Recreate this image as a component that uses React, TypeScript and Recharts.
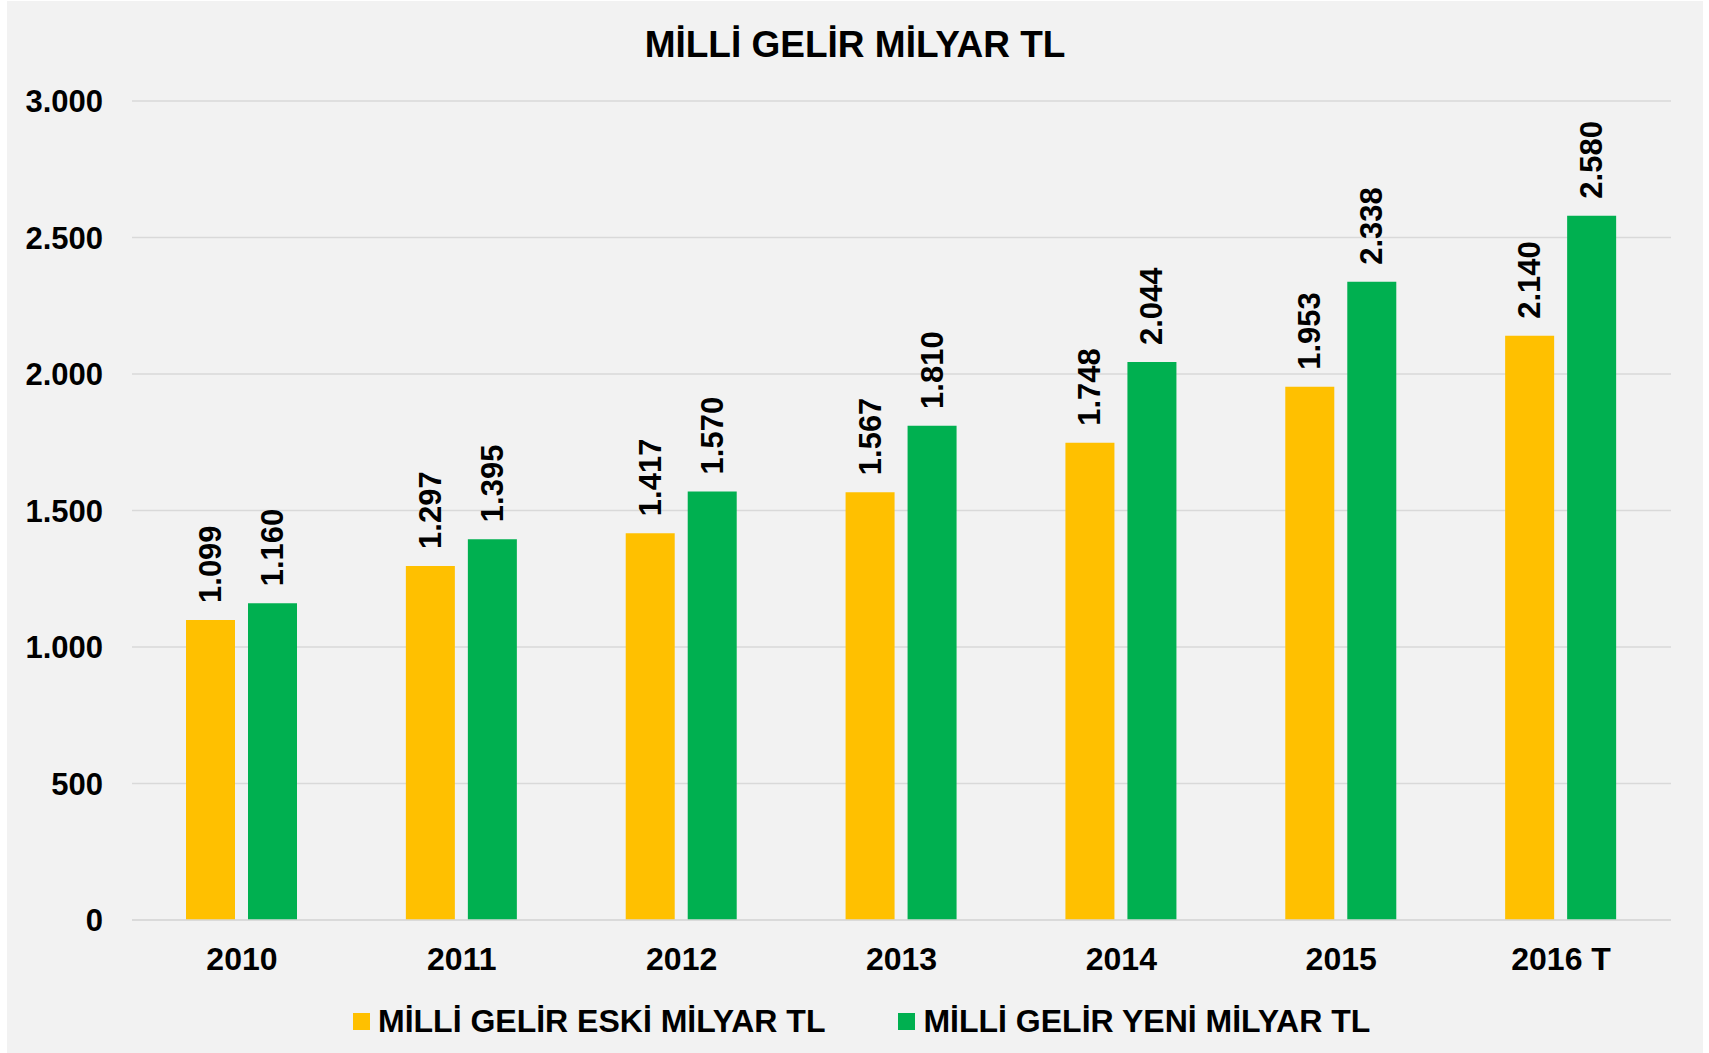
import React from "react";
import { BarChart, Bar, XAxis, YAxis, CartesianGrid, LabelList } from "recharts";

const categories = ["2010", "2011", "2012", "2013", "2014", "2015", "2016 T"];
const eskiValues = [1099, 1297, 1417, 1567, 1748, 1953, 2140];
const yeniValues = [1160, 1395, 1570, 1810, 2044, 2338, 2580];
const yTicks = [0, 500, 1000, 1500, 2000, 2500, 3000];

const seriesNames = ["MİLLİ GELİR ESKİ MİLYAR TL", "MİLLİ GELİR YENİ MİLYAR TL"];
const seriesColors = ["#FFC000", "#00B050"];

const FONT = "Arial, 'Liberation Sans', sans-serif";

const data = categories.map((year, i) => ({
  year,
  eski: eskiValues[i],
  yeni: yeniValues[i],
}));

// 3000 -> "3.000"
const fmt = (v: number) => String(v).replace(/\B(?=(\d{3})+(?!\d))/g, ".");

const RotatedLabel = (props: any) => {
  const { x, y, width, value } = props;
  const cx = Number(x) + Number(width) / 2;
  const cy = Number(y) - 17;
  return (
    <text
      x={cx}
      y={cy}
      transform={`rotate(-90, ${cx}, ${cy})`}
      textAnchor="start"
      dominantBaseline="central"
      fontFamily={FONT}
      fontWeight="bold"
      fontSize={31}
      fill="#000"
    >
      {fmt(Number(value))}
    </text>
  );
};

export default function App() {
  return (
    <div style={{ position: "absolute", left: 0, top: 0, width: 1709, height: 1053, background: "#fff", fontFamily: FONT }}>
      <div style={{ position: "absolute", left: 7, top: 1, width: 1696, height: 1052, background: "#F2F2F2" }} />
      <div
        style={{
          position: "absolute",
          left: 7,
          top: 26,
          width: 1696,
          textAlign: "center",
          fontSize: 37,
          lineHeight: "37px",
          fontWeight: "bold",
          color: "#000",
        }}
      >
        MİLLİ GELİR MİLYAR TL
      </div>
      <div style={{ position: "absolute", left: 0, top: 0 }}>
        <BarChart
          width={1709}
          height={1053}
          data={data}
          margin={{ top: 101, right: 38, bottom: 103, left: 0 }}
          barGap={13}
        >
          <CartesianGrid vertical={false} stroke="#D9D9D9" strokeWidth={1.5} />
          <XAxis
            dataKey="year"
            height={30}
            tickLine={false}
            tickSize={0}
            tickMargin={27}
            axisLine={{ stroke: "#D9D9D9", strokeWidth: 1.5 }}
            tick={{ fill: "#000", fontSize: 32, fontWeight: "bold", fontFamily: FONT }}
            interval={0}
          />
          <YAxis
            width={132}
            domain={[0, 3000]}
            ticks={yTicks}
            tickFormatter={fmt}
            tickLine={false}
            tickSize={0}
            tickMargin={29}
            axisLine={false}
            tick={{ fill: "#000", fontSize: 31, fontWeight: "bold", fontFamily: FONT }}
          />
          <Bar dataKey="eski" name={seriesNames[0]} fill={seriesColors[0]} barSize={49} isAnimationActive={false}>
            <LabelList dataKey="eski" content={RotatedLabel} />
          </Bar>
          <Bar dataKey="yeni" name={seriesNames[1]} fill={seriesColors[1]} barSize={49} isAnimationActive={false}>
            <LabelList dataKey="yeni" content={RotatedLabel} />
          </Bar>
        </BarChart>
      </div>
      <div
        style={{
          position: "absolute",
          left: 353,
          top: 1005,
          display: "flex",
          alignItems: "center",
          fontSize: 32,
          lineHeight: "32px",
          fontWeight: "bold",
          color: "#000",
          whiteSpace: "nowrap",
        }}
      >
        {seriesNames.map((name, i) => (
          <div key={name} style={{ display: "flex", alignItems: "center", marginRight: i === 0 ? 73 : 0 }}>
            <span style={{ display: "inline-block", width: 17, height: 17, background: seriesColors[i], marginRight: 8 }} />
            <span>{name}</span>
          </div>
        ))}
      </div>
    </div>
  );
}
